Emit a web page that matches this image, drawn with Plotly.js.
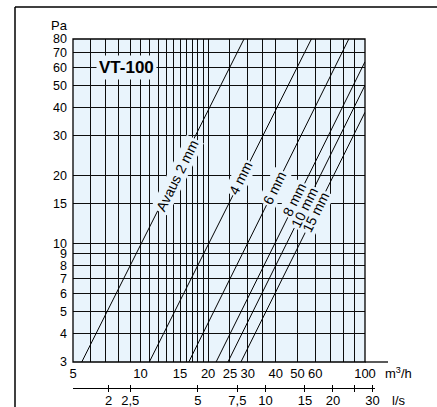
<!DOCTYPE html>
<html>
<head>
<meta charset="utf-8">
<script src="https://cdn.plot.ly/plotly-3.0.1.min.js"></script>
<style>html,body{margin:0;padding:0;background:#fff;}#chart{width:437px;height:407px;}</style>
</head>
<body>
<div id="chart"></div>
<script>
// ---- data ----
const openings = ['Avaus 2 mm', '4 mm', '6 mm', '8 mm', '10 mm', '15 mm'];
const flowStart = [5.47, 10.94, 16.4, 21.7, 24.5, 28.0];   // m3/h at first point
const paStart   = [3, 3, 3, 3, 3, 3];                      // Pa at first point
const flowEnd   = [28.9, 57.7, 84.7, 100, 100, 100];       // m3/h at last point
const paEnd     = [80, 80, 80, 63.5, 50, 38];              // Pa at last point
const labelFlow = [14.6, 27.9, 39.5, 48.3, 53.5, 60.3];    // where each opening label sits
const labelPa   = [20.1, 19.5, 17.6, 15.6, 14.4, 13.8];

const xTickVals = [5,6,7,8,9,10,11,12,13,14,15,16,17,18,19,20,25,30,35,40,50,60,70,80,90,100];
const xTickLabels = ['5','','','','','10','','','','','15','','','','','20','25','30','','40','50','60','','','','100'];
const yTickVals = [3,4,5,6,7,8,9,10,15,20,30,40,50,60,70,80];
const yTickLabels = ['3','4','5','6','7','8','9','10','15','20','30','40','50','60','70','80'];
const lsTickVals = [2,2.5,5,7.5,10,15,20,25,30];
const lsTickLabels = ['2','2,5','5','7,5','10','15','20','','30'];

// ---- geometry (px) ----
const W = 437, H = 407;
const L = 73, T = 39, PR = 365, PB = 362, AXR = 388, LSY = 388, LSR = 375;
const pw = AXR - L, ph = LSY - T;
const px = v => (v - L) / pw;
const py = v => (LSY - v) / ph;
const bg = '#e9f4fc';
const font = 'Liberation Sans, Arial, sans-serif';

const xr = [Math.log10(5), 2];
const xScale = (xr[1] - xr[0]) / (PR - L);
const lsr0 = xr[0] - Math.log10(3.6);
const lsr = [lsr0, lsr0 + xScale * (LSR - L)];

const traces = openings.map((n, i) => ({
  x: [flowStart[i], flowEnd[i]], y: [paStart[i], paEnd[i]],
  type: 'scatter', mode: 'lines', name: n,
  line: {color: '#000', width: 1}, hoverinfo: 'skip', showlegend: false,
  xaxis: 'x', yaxis: 'y'
}));
traces.push({x: [5], y: [1], xaxis: 'x2', yaxis: 'y2', mode: 'markers', marker: {opacity: 0}, showlegend: false, hoverinfo: 'skip'});
traces.push({x: [5], y: [1], xaxis: 'x3', yaxis: 'y2', mode: 'markers', marker: {opacity: 0}, showlegend: false, hoverinfo: 'skip'});

const lblFont = 14;
// first the masking boxes, then the texts on top so no box hides another label
const annotations = [];
openings.forEach((n, i) => annotations.push({
  x: Math.log10(labelFlow[i]), y: Math.log10(labelPa[i]), xref: 'x', yref: 'y',
  text: n, showarrow: false, textangle: -63.6,
  font: {family: font, size: lblFont, color: 'rgba(0,0,0,0)'},
  bgcolor: bg, borderpad: 1
}));
openings.forEach((n, i) => annotations.push({
  x: Math.log10(labelFlow[i]), y: Math.log10(labelPa[i]), xref: 'x', yref: 'y',
  text: n, showarrow: false, textangle: -63.6,
  font: {family: font, size: lblFont, color: '#000'}, borderpad: 1
}));
annotations.push({x: Math.log10(8.64), y: Math.log10(60), xref: 'x', yref: 'y', text: '<b>VT-100</b>',
  showarrow: false, font: {family: font, size: 17, color: '#000'}, bgcolor: bg, borderpad: 2});
annotations.push({x: px(59), y: py(25), xref: 'paper', yref: 'paper', xanchor: 'center', yanchor: 'middle', text: 'Pa', showarrow: false,
  font: {family: font, size: 13, color: '#000'}});
annotations.push({x: px(383), y: py(373), xref: 'paper', yref: 'paper', xanchor: 'left', yanchor: 'middle', text: 'm<sup>3</sup>/h', showarrow: false,
  font: {family: font, size: 13, color: '#000'}});
annotations.push({x: px(390), y: py(400), xref: 'paper', yref: 'paper', xanchor: 'left', yanchor: 'middle', text: 'l/s', showarrow: false,
  font: {family: font, size: 13, color: '#000'}});

const yDom = [py(PB), 1];
const layout = {
  width: W, height: H,
  margin: {l: L, r: W - AXR, t: T, b: H - LSY, pad: 0},
  paper_bgcolor: '#fff', plot_bgcolor: 'rgba(0,0,0,0)',
  font: {family: font, size: 13, color: '#000'},
  showlegend: false,
  xaxis: {type: 'log', domain: [0, px(PR)], range: xr, anchor: 'y',
    tickmode: 'array', tickvals: xTickVals, ticktext: xTickLabels,
    showgrid: true, gridcolor: '#0d0d0d', gridwidth: 1.1, ticks: '', showline: false,
    ticklabelstandoff: 2, tickfont: {family: font, size: 13, color: '#000'}, fixedrange: true},
  yaxis: {type: 'log', domain: yDom, range: [Math.log10(3), Math.log10(80)], anchor: 'x',
    tickmode: 'array', tickvals: yTickVals, ticktext: yTickLabels,
    showgrid: true, gridcolor: '#0d0d0d', gridwidth: 1.1, ticks: '', showline: false,
    ticklabelstandoff: 5, tickfont: {family: font, size: 12.5, color: '#000'}, fixedrange: true},
  xaxis2: {type: 'log', domain: [0, px(LSR)], range: lsr, anchor: 'y2',
    tickmode: 'array', tickvals: lsTickVals, ticktext: lsTickLabels,
    showgrid: false, ticks: 'outside', ticklen: 3, tickwidth: 1, tickcolor: '#000',
    showline: true, linecolor: '#000', linewidth: 1, ticklabelstandoff: -3,
    tickfont: {family: font, size: 13, color: '#000'}, fixedrange: true},
  xaxis3: {type: 'log', overlaying: 'x2', range: lsr, anchor: 'y2',
    tickmode: 'array', tickvals: lsTickVals, ticktext: lsTickLabels,
    showgrid: false, ticks: 'inside', ticklen: 3, tickwidth: 1, tickcolor: '#000',
    showline: false, showticklabels: false, fixedrange: true},
  yaxis2: {domain: [0, 0.02], visible: false, range: [0, 2], fixedrange: true},
  shapes: [
    {type: 'rect', xref: 'paper', yref: 'paper', x0: 0, x1: px(PR), y0: yDom[0], y1: 1,
      fillcolor: bg, line: {width: 0}, layer: 'below'},
    {type: 'rect', xref: 'paper', yref: 'paper', x0: 0, x1: px(PR), y0: yDom[0], y1: 1,
      fillcolor: 'rgba(0,0,0,0)', line: {color: '#000', width: 1.3}},
    {type: 'line', xref: 'paper', yref: 'paper', x0: px(PR), x1: 1, y0: yDom[0], y1: yDom[0],
      line: {color: '#000', width: 1.3}},
    {type: 'line', xref: 'paper', yref: 'paper', x0: px(15), x1: px(15), y0: py(7), y1: py(410),
      line: {color: '#000', width: 1.5}},
    {type: 'line', xref: 'paper', yref: 'paper', x0: px(15), x1: px(440), y0: py(7), y1: py(7),
      line: {color: '#000', width: 1.5}}
  ],
  annotations: annotations
};
Plotly.newPlot('chart', traces, layout, {staticPlot: true, displayModeBar: false});
</script>
</body>
</html>
